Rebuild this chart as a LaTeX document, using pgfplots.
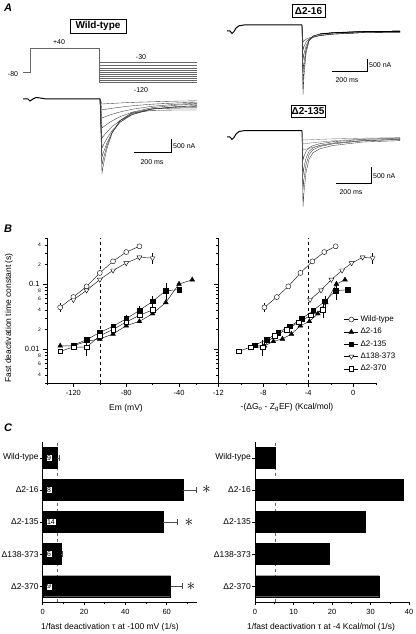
\documentclass[border=0pt]{standalone}
\usepackage{fontspec}
\setmainfont{Liberation Sans}
\usepackage{pgfplots}
\pgfplotsset{compat=1.18}
\pgfplotsset{
  every axis/.append style={scale only axis, anchor=south west, clip=false,
    tick align=outside, axis line style={black, line width=0.5pt},
    major tick length=4pt, minor tick length=2.5pt,
    every tick/.style={black, line width=0.5pt},
    tick label style={font=\fontsize{7.5}{8}\selectfont},
    /pgf/number format/assume math mode=true},
  trace/.style={black!80, line width=0.35pt},
  base/.style={black, line width=1pt},
  wt/.style={black, line width=0.4pt, mark=*, mark size=2.5pt, mark options={fill=white, solid}},
  dA/.style={black, line width=0.4pt, mark=triangle*, mark size=2.8pt, mark options={fill=black, solid}},
  dB/.style={black, line width=0.4pt, mark=square*, mark size=2.3pt, mark options={fill=black, solid}},
  dC/.style={black, line width=0.4pt, mark=triangle*, mark size=2.8pt, mark options={fill=white, solid, rotate=180}},
  dD/.style={black, line width=0.4pt, mark=square*, mark size=2.3pt, mark options={fill=white, solid}},
  errs/.style={draw=none, mark=none, forget plot, error bars/.cd, y dir=both, y explicit,
     error bar style={black, line width=0.4pt}, error mark options={black, mark size=1.5pt, line width=0.4pt}},
  eb/.style={black!70, line width=0.5pt, mark=none, forget plot},
}
\newcommand{\lab}{\fontsize{8.5}{9}\selectfont}
\newcommand{\sm}{\fontsize{7}{8}\selectfont}
\begin{document}
\begin{tikzpicture}
\path[use as bounding box] (0pt,0pt) rectangle (415pt,634pt);

% ---------------- Panel A ----------------
\begin{axis}[at={(0pt,419pt)}, width=415pt, height=215pt, xmin=0, xmax=415, ymin=-215, ymax=0, hide axis]
\addplot[black!60, line width=0.5pt] coordinates {(23,-72.7)(30.7,-72.7)(30.7,-48.3)(99.3,-48.3)(99.3,-82)(196.7,-82)};
\pgfplotsinvokeforeach{62.7,65.7,68,70.3,72.7,74.7,76.7,78.7,80.3}{
  \addplot[black!60, line width=0.4pt] coordinates {(99.3,-#1)(196.7,-#1)};}
\addplot[trace] coordinates {(100,-99)(102,-173)(104,-161.6)(107,-148.2)(112,-133.2)(120,-120.4)(132,-113.1)(152,-110.4)(177,-110)(197,-110)};
\addplot[trace] coordinates {(100,-99)(102,-165)(104,-156.2)(107,-145.6)(112,-132.8)(120,-120.7)(132,-112.7)(152,-108.9)(177,-108.1)(197,-108)};
\addplot[trace] coordinates {(100,-99)(102,-157)(104,-150.8)(107,-142.8)(112,-132.7)(120,-122.1)(132,-113.8)(152,-108.8)(177,-107.3)(197,-107.1)};
\addplot[trace] coordinates {(100,-99)(102,-148)(104,-143.8)(107,-138.3)(112,-130.8)(120,-122.3)(132,-114.7)(152,-109.0)(177,-106.8)(197,-106.3)};
\addplot[trace] coordinates {(100,-99)(102,-138)(104,-135.4)(107,-131.8)(112,-126.7)(120,-120.6)(132,-114.5)(152,-109.1)(177,-106.5)(197,-105.6)};
\addplot[trace] coordinates {(100,-99)(102,-128)(104,-126.4)(107,-124.2)(112,-120.9)(120,-116.7)(132,-112.2)(152,-107.7)(177,-105.1)(197,-104.1)};
\addplot[trace] coordinates {(100,-99)(102,-118)(104,-117.2)(107,-116)(112,-114.3)(120,-112)(132,-109.3)(152,-106.3)(177,-104.2)(197,-103.3)};
\addplot[trace] coordinates {(100,-99)(102,-110)(104,-109.6)(107,-109.1)(112,-108.3)(120,-107.2)(132,-105.8)(152,-104.2)(177,-102.9)(197,-102.2)};
\addplot[trace] coordinates {(100,-99)(102,-104)(104,-103.9)(107,-103.7)(112,-103.4)(120,-103.0)(132,-102.4)(152,-101.8)(177,-101.1)(197,-100.8)};
\addplot[base] coordinates {(23,-99)(28,-99)(30,-101)(33,-99)(36,-97.5)(40,-98)(46,-99)(100,-99)};
\addplot[black, line width=0.5pt] coordinates {(134,-152.3)(171,-152.3)(171,-139.3)};
\addplot[trace] coordinates {(302,-25)(303,-95)(304,-75.7)(306,-53.8)(309,-41.0)(313,-36.0)(320,-34.1)(333,-32.8)(363,-31.5)(400,-31.1)};
\addplot[trace] coordinates {(302,-25)(303,-85)(304,-69.0)(306,-50.7)(309,-40.1)(313,-35.9)(320,-34.1)(333,-32.8)(363,-31.5)(400,-31.1)};
\addplot[trace] coordinates {(302,-25)(303,-72)(304,-61.9)(306,-49.2)(309,-40.4)(313,-36.3)(320,-34.1)(333,-32.8)(363,-31.5)(400,-31.1)};
\addplot[trace] coordinates {(302,-25)(303,-60)(304,-53.8)(306,-45.9)(309,-40.3)(313,-37.5)(320,-35.5)(333,-34.1)(363,-32.6)(400,-32.1)};
\addplot[trace] coordinates {(302,-25)(303,-50)(304,-46.6)(306,-42.2)(309,-39.0)(313,-37.1)(320,-35.5)(333,-34.1)(363,-32.6)(400,-32.1)};
\addplot[trace] coordinates {(302,-25)(303,-42)(304,-40.9)(306,-39.3)(309,-37.9)(313,-36.8)(320,-35.5)(333,-34.1)(363,-32.6)(400,-32.1)};
\addplot[base] coordinates {(227,-31)(230,-31)(232,-33.5)(234,-31.5)(236,-28)(239,-25.8)(244,-25)(302,-25)};
\addplot[black, line width=0.9pt] coordinates {(320,-34)(333,-32.8)(363,-31.7)(400,-31.4)};
\addplot[black, line width=0.5pt] coordinates {(332,-71)(367,-71)(367,-59)};
\addplot[trace] coordinates {(302,-130.7)(303,-207)(304,-191.8)(306,-172.7)(309,-159.3)(313,-152.7)(320,-148.7)(333,-145.5)(363,-142.0)(400,-140.6)};
\addplot[trace] coordinates {(302,-130.7)(303,-190)(304,-178.8)(306,-164.8)(309,-154.7)(313,-149.7)(320,-146.5)(333,-143.8)(363,-140.8)(400,-139.5)};
\addplot[trace] coordinates {(302,-130.7)(303,-175)(304,-167.5)(306,-158.2)(309,-151.4)(313,-147.8)(320,-145.3)(333,-143)(363,-140.5)(400,-139.4)};
\addplot[trace] coordinates {(302,-130.7)(303,-160)(304,-156.3)(306,-151.5)(309,-147.8)(313,-145.6)(320,-143.7)(333,-141.7)(363,-139.4)(400,-138.4)};
\addplot[trace, black!55] coordinates {(302,-130.7)(303,-150)(304,-149.7)(306,-149.1)(309,-148.3)(313,-147.3)(320,-145.8)(333,-143.7)(363,-140.7)(400,-139.1)};
\addplot[trace, black!55] coordinates {(302,-130.7)(303,-144)(304,-143.9)(306,-143.6)(309,-143.2)(313,-142.7)(320,-142)(333,-140.8)(363,-139.1)(400,-138)};
\addplot[trace, black!55] coordinates {(302,-130.7)(303,-140)(304,-140)(306,-139.9)(309,-139.8)(313,-139.6)(320,-139.3)(333,-138.9)(363,-138.2)(400,-137.6)};
\addplot[base] coordinates {(227,-137)(230,-137)(232,-139.5)(234,-137.5)(236,-134)(239,-131.5)(244,-130.7)(302,-130.7)};
\addplot[black, line width=0.5pt] coordinates {(336,-183)(371,-183)(371,-167)};
\node[font=\bfseries\itshape\fontsize{11}{11}\selectfont] at (axis cs:8,-8) {A};
\node[draw, line width=0.6pt, font=\bfseries\fontsize{10}{10}\selectfont, minimum width=56pt, minimum height=14pt, inner sep=0pt] at (axis cs:98,-26) {Wild-type};
\node[draw, line width=0.6pt, font=\bfseries\fontsize{10}{10}\selectfont, minimum width=33pt, minimum height=12.5pt, inner sep=0pt] at (axis cs:308.5,-11) {Δ2-16};
\node[draw, line width=0.6pt, font=\bfseries\fontsize{10}{10}\selectfont, minimum width=34pt, minimum height=12.5pt, inner sep=0pt] at (axis cs:308,-111.5) {Δ2-135};
\node[font=\sm] at (axis cs:59,-42) {+40};
\node[font=\sm] at (axis cs:141,-57) {-30};
\node[font=\sm] at (axis cs:141,-90) {-120};
\node[font=\sm] at (axis cs:13,-74) {-80};
\node[font=\sm, anchor=west, inner sep=1pt] at (axis cs:172,-146) {500 nA};
\node[font=\sm] at (axis cs:152,-162) {200 ms};
\node[font=\sm, anchor=west, inner sep=1pt] at (axis cs:368,-65) {500 nA};
\node[font=\sm] at (axis cs:347,-80) {200 ms};
\node[font=\sm, anchor=west, inner sep=1pt] at (axis cs:372,-176) {500 nA};
\node[font=\sm] at (axis cs:351,-192) {200 ms};
\end{axis}

\node[font=\bfseries\itshape\fontsize{11}{11}\selectfont] at (8pt,405pt) {B};
\node[font=\lab, rotate=90] at (9pt,316pt) {Fast deactivation time constant (s)};
\node[font=\lab] at (126pt,226pt) {Em (mV)};
\node[font=\lab] at (287pt,226pt) {-(ΔG\textsubscript{o} - Z\textsubscript{g}EF) (Kcal/mol)};

\begin{axis}[at={(47pt,251pt)}, width=150.5pt, height=145pt,
  xmin=-140, xmax=-26, ymode=log, ymin=0.003, ymax=0.51,
  axis lines*=left,
  xtick={-120,-80,-40}, xticklabels={-120,-80,-40}, minor xtick={-140,-100,-60},
  ytick={0.01,0.1}, yticklabels={0.01,0.1},
  minor ytick={0.003,0.005,0.007,0.009,0.03,0.05,0.07,0.09,0.3,0.5},
  extra y ticks={0.004,0.006,0.008,0.02,0.04,0.06,0.08,0.2,0.4},
  extra y tick labels={4,6,8,2,4,6,8,2,4},
  extra y tick style={major tick length=2.5pt, yticklabel style={font=\fontsize{5}{5}\selectfont}}]
\addplot[black, dashed, line width=0.5pt] coordinates {(-100,0.003)(-100,0.51)};
\addplot[wt] coordinates {(-130,0.0437)(-120,0.063)(-110,0.092)(-100,0.148)(-90,0.223)(-80,0.31)(-70,0.38)};
\addplot[dA] coordinates {(-130,0.0112)(-120,0.0112)(-110,0.0131)(-100,0.0143)(-90,0.017)(-80,0.0228)(-70,0.0266)(-60,0.035)(-50,0.052)(-40,0.1)(-30,0.116)};
\addplot[dB] coordinates {(-120,0.0115)(-110,0.0139)(-100,0.018)(-90,0.0223)(-80,0.0292)(-70,0.0393)(-60,0.054)(-50,0.079)(-40,0.0817)};
\addplot[dC] coordinates {(-120,0.057)(-110,0.08)(-100,0.117)(-90,0.162)(-80,0.21)(-70,0.257)(-60,0.25)};
\addplot[dD] coordinates {(-130,0.0092)(-120,0.0107)(-110,0.0107)(-100,0.016)(-90,0.020)(-80,0.026)(-70,0.033)(-60,0.040)};
\addplot[errs] coordinates {(-130,0.0437) +- (0,0.005) (-60,0.054) +- (0,0.008) (-50,0.079) +- (0,0.02) (-70,0.0393) +- (0,0.004) (-110,0.0107) +- (0,0.0025) (-60,0.25) +- (0,0.035) (-80,0.0292) +- (0,0.002)};
\end{axis}

\begin{axis}[at={(195.8pt,251pt)}, width=180pt, height=145pt,
  xmin=-14, xmax=2, ymode=log, ymin=0.003, ymax=0.51,
  axis x line*=bottom, axis y line=none,
  xtick={-12,-8,-4,0}, xticklabels={-12,-8,-4,0}, minor xtick={-14,-10,-6,-2,2},
  legend style={at={(0.823,0.478)}, anchor=north west, draw=none, fill=none,
    font=\fontsize{8}{8}\selectfont, row sep=1.2pt, inner sep=0pt,
    cells={anchor=west}},
  legend image code/.code={\draw[mark repeat=2,mark phase=2] plot coordinates {(0pt,0pt)(7pt,0pt)(14pt,0pt)};}]
\addplot[black, dashed, line width=0.5pt, forget plot] coordinates {(-4,0.003)(-4,0.51)};
\addplot[wt] coordinates {(-7.9,0.0437)(-6.8,0.063)(-5.78,0.092)(-4.7,0.148)(-3.64,0.223)(-2.58,0.31)(-1.57,0.38)};
\addplot[dA] coordinates {(-8.7,0.0112)(-7.9,0.0112)(-7.1,0.0131)(-6.3,0.0143)(-5.5,0.017)(-4.7,0.0228)(-3.9,0.0266)(-3.15,0.035)(-2.45,0.052)(-1.5,0.1)(-0.74,0.116)};
\addplot[dB] coordinates {(-8.74,0.0115)(-7.7,0.0139)(-6.67,0.018)(-5.63,0.0223)(-4.59,0.0292)(-3.56,0.0393)(-2.52,0.054)(-1.56,0.079)(-0.5,0.0817)};
\addplot[dC] coordinates {(-3.85,0.057)(-2.87,0.08)(-1.95,0.117)(-1.0,0.162)(-0.15,0.21)(0.83,0.257)(1.72,0.25)};
\addplot[dD] coordinates {(-10.2,0.0092)(-9.13,0.0107)(-8.06,0.0107)(-6.99,0.016)(-5.91,0.020)(-4.84,0.026)(-3.77,0.033)(-2.7,0.040)};
\addplot[errs] coordinates {(-7.9,0.0437) +- (0,0.005) (-2.52,0.054) +- (0,0.008) (-1.56,0.079) +- (0,0.02) (-8.06,0.0107) +- (0,0.0025) (1.72,0.25) +- (0,0.035) (-2.7,0.040) +- (0,0.008)};
\legend{Wild-type,Δ2-16,Δ2-135,Δ138-373,Δ2-370}
\end{axis}
\begin{axis}[at={(218.3pt,251pt)}, width=157.5pt, height=145pt,
  xmin=-12, xmax=2, ymode=log, ymin=0.003, ymax=0.51,
  axis y line*=left, axis x line=none,
  ytick={0.01,0.1}, yticklabels={,},
  minor ytick={0.003,0.004,0.005,0.006,0.007,0.008,0.009,0.02,0.03,0.04,0.05,0.06,0.07,0.08,0.09,0.2,0.3,0.4,0.5}]
\addplot[draw=none] coordinates {(-12,0.01)};
\end{axis}

\node[font=\bfseries\itshape\fontsize{11}{11}\selectfont] at (8pt,206pt) {C};
\node[font=\lab] at (110pt,7pt) {1/fast deactivation τ at -100 mV (1/s)};
\node[font=\lab] at (321pt,7pt) {1/fast deactivation τ at -4 Kcal/mol (1/s)};

\begin{axis}[at={(42.7pt,31.7pt)}, width=154pt, height=160.6pt,
  xmin=0, xmax=74.5, ymin=0.5, ymax=5.5, axis lines*=left,
  major tick length=3pt, minor tick length=2pt,
  xtick={0,20,40,60}, xticklabels={0,20,40,60}, minor xtick={10,30,50,70},
  ytick={1,2,3,4,5}, yticklabels={Δ2-370,Δ138-373,Δ2-135,Δ2-16,Wild-type},
  yticklabel style={font=\lab, inner sep=1pt}]
\addplot[black!60, dashed, line width=0.6pt] coordinates {(7.1,0.5)(7.1,5.5)};
\addplot[xbar, bar width=21pt, fill=black, draw=black]
  coordinates {(7.1,5) (67.9,4) (58.4,3) (8.9,2) (61.9,1)};
\addplot[eb] coordinates {(7.1,5)(7.9,5)};
\addplot[eb] coordinates {(7.9,4.9)(7.9,5.1)};
\addplot[eb] coordinates {(67.9,4)(74.2,4)};
\addplot[eb] coordinates {(74.2,3.9)(74.2,4.1)};
\addplot[eb] coordinates {(58.4,3)(65.2,3)};
\addplot[eb] coordinates {(65.2,2.9)(65.2,3.1)};
\addplot[eb] coordinates {(8.9,2)(9.4,2)};
\addplot[eb] coordinates {(9.4,1.9)(9.4,2.1)};
\addplot[eb] coordinates {(61.9,1)(67.3,1)};
\addplot[eb] coordinates {(67.3,0.9)(67.3,1.1)};
\node[draw, fill=white, inner sep=1pt, line width=0.4pt, anchor=west, font=\sm] at (axis cs:1.5,5) {9};
\node[draw, fill=white, inner sep=1pt, line width=0.4pt, anchor=west, font=\sm] at (axis cs:1.5,4) {8};
\node[draw, fill=white, inner sep=1pt, line width=0.4pt, anchor=west, font=\sm] at (axis cs:1.5,3) {14};
\node[draw, fill=white, inner sep=1pt, line width=0.4pt, anchor=west, font=\sm] at (axis cs:1.5,2) {6};
\node[draw, fill=white, inner sep=1pt, line width=0.4pt, anchor=west, font=\sm] at (axis cs:1.5,1) {9};
\node[font=\fontsize{18}{18}\selectfont] at (axis cs:79.2,4) {$\ast$};
\node[font=\fontsize{18}{18}\selectfont] at (axis cs:70.8,3) {$\ast$};
\node[font=\fontsize{18}{18}\selectfont] at (axis cs:71.7,1) {$\ast$};
\end{axis}

\begin{axis}[at={(255pt,31.7pt)}, width=154pt, height=160.6pt,
  xmin=0, xmax=40, ymin=0.5, ymax=5.5, axis lines*=left,
  major tick length=3pt, minor tick length=2pt,
  xtick={0,10,20,30,40}, xticklabels={0,10,20,30,40}, minor xtick={5,15,25,35},
  ytick={1,2,3,4,5}, yticklabels={Δ2-370,Δ138-373,Δ2-135,Δ2-16,Wild-type},
  yticklabel style={font=\lab, inner sep=1pt}]
\addplot[black!60, dashed, line width=0.6pt] coordinates {(5.3,0.5)(5.3,5.5)};
\addplot[xbar, bar width=21pt, fill=black, draw=black]
  coordinates {(5.2,5) (38.4,4) (28.7,3) (19.3,2) (32.3,1)};
\end{axis}
\end{tikzpicture}
\end{document}
